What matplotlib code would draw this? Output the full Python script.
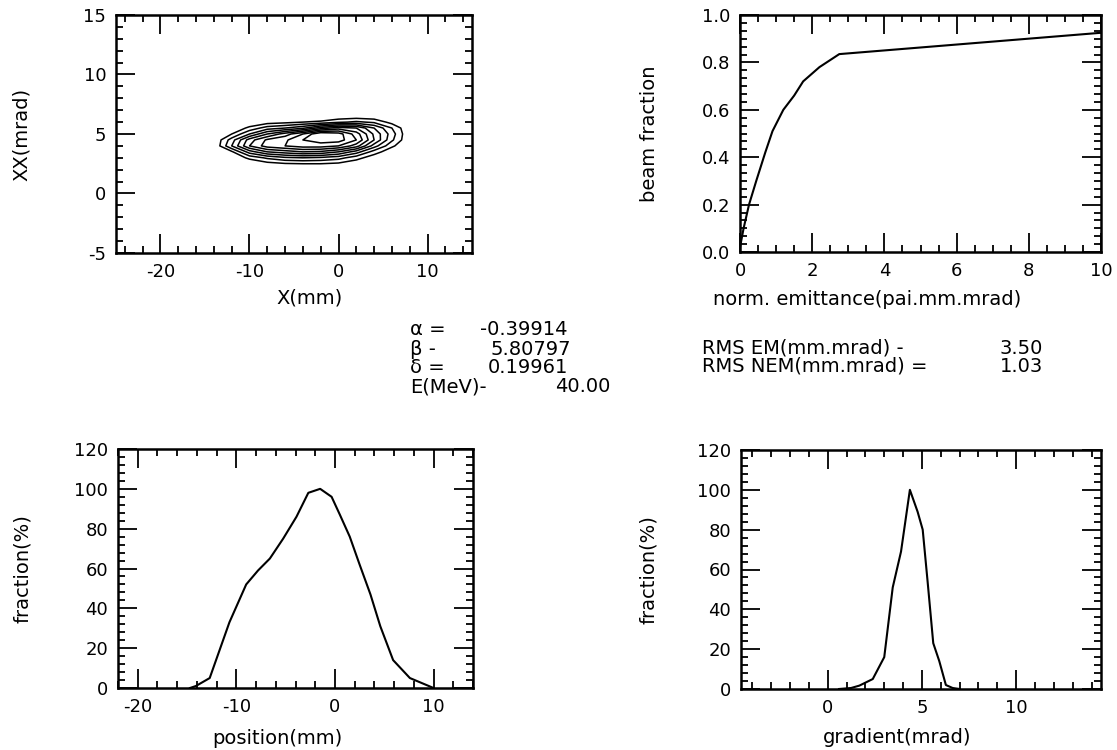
import numpy as np
import matplotlib
matplotlib.use("Agg")
import matplotlib.pyplot as plt
from matplotlib.ticker import MultipleLocator, AutoMinorLocator, FormatStrFormatter

plt.rcParams['font.family'] = ['DejaVu Sans']
plt.rcParams['axes.unicode_minus'] = False

# ---------------- data ----------------
# phase-space density grid (read approx. from contour picture)
cx = [-14, -12, -10, -8, -6, -4, -2, 0, 2, 4, 6, 8]
cy = [1.5, 2.0, 2.5, 3.0, 3.5, 4.0, 4.5, 5.0, 5.5, 6.0, 6.5, 7.0, 7.5]
dens = [
    [0, 0, 0, 0, 0, 0, 0, 0, 0, 0, 0, 0],
    [0, 0, 0, 0, 0.2, 0.3, 0.2, 0, 0, 0, 0, 0],
    [0, 0, 0, 0.6, 0.9, 1.0, 1.0, 0.8, 0.3, 0, 0, 0],
    [0, 0, 1.3, 2.2, 2.8, 3.0, 2.8, 2.4, 1.4, 0.4, 0, 0],
    [0, 0.8, 3.5, 5.0, 5.5, 6.0, 5.8, 5.0, 3.5, 1.5, 0.3, 0],
    [0, 3.0, 6.0, 7.5, 8.0, 8.5, 8.5, 8.0, 6.5, 3.5, 1.2, 0],
    [0, 2.5, 5.5, 7.2, 7.8, 9.0, 9.5, 9.5, 8.0, 5.0, 2.2, 0],
    [0, 1.0, 3.0, 5.0, 6.5, 8.0, 10.0, 9.5, 7.5, 4.8, 2.5, 0],
    [0, 0, 1.3, 2.5, 3.0, 3.8, 5.5, 6.5, 6.0, 4.0, 2.0, 0],
    [0, 0, 0, 0.5, 0.7, 1.0, 1.2, 1.8, 2.2, 1.8, 0.6, 0],
    [0, 0, 0, 0, 0, 0, 0, 0.2, 0.3, 0.2, 0, 0],
    [0, 0, 0, 0, 0, 0, 0, 0, 0, 0, 0, 0],
    [0, 0, 0, 0, 0, 0, 0, 0, 0, 0, 0, 0],
]
contour_levels = [1, 2, 3, 4, 5, 6, 7, 8, 9]

# beam fraction vs normalized emittance
emit = [0.0, 0.1, 0.25, 0.45, 0.7, 0.9, 1.2, 1.5, 1.75, 2.2, 2.75, 10.0]
frac = [0.02, 0.1, 0.2, 0.3, 0.42, 0.51, 0.6, 0.66, 0.72, 0.78, 0.835, 0.925]

# position profile
pos = [-14.7, -14.1, -12.7, -11.7, -10.7, -9.0, -7.8, -6.6, -5.25, -3.9, -2.7,
       -1.5, -0.34, 0.5, 1.5, 2.5, 3.6, 4.6, 5.9, 7.6, 10.0]
pos_frac = [0, 1, 5, 19, 33, 52, 59, 65, 75, 86, 98,
            100, 96, 87, 76, 62, 47, 31, 14, 5, 0]

# gradient profile
grad = [0.6, 1.24, 1.68, 2.39, 3.0, 3.45, 3.89, 4.36, 4.77, 5.04, 5.3,
        5.6, 5.92, 6.27, 6.63, 7.0]
grad_frac = [0, 0.5, 1.7, 5, 16, 51, 69, 100, 89, 80, 54,
             23, 14, 2, 0.5, 0]

alpha_txt = "-0.39914"
beta_txt = "5.80797"
gamma_txt = "0.19961"
energy_txt = "40.00"
rms_em_txt = "3.50"
rms_nem_txt = "1.03"

# ---------------- figure ----------------
W, H = 1117, 750
fig = plt.figure(figsize=(W / 100, H / 100), dpi=100)
FS = 13
LFS = 14

def px_axes(l, r, t, b):
    return fig.add_axes([l / W, 1 - b / H, (r - l) / W, (b - t) / H])

def style(ax, xmaj, xmin, ymaj, ymin_loc):
    ax.xaxis.set_major_locator(MultipleLocator(xmaj))
    ax.xaxis.set_minor_locator(MultipleLocator(xmin))
    ax.yaxis.set_major_locator(MultipleLocator(ymaj))
    ax.yaxis.set_minor_locator(ymin_loc)
    ax.tick_params(which='both', direction='in', top=True, right=True,
                   labelsize=FS, width=1.3, color='k', pad=7)
    ax.tick_params(which='major', length=14)
    ax.tick_params(which='minor', length=5)
    for s in ax.spines.values():
        s.set_linewidth(1.8)

def xlab(ax, text, xc, yc):
    ax.set_xlabel(text, fontsize=LFS)
    ax.xaxis.set_label_coords(xc, yc)
    ax.xaxis.label.set_va('center')

def ylab(ax, text, xc):
    ax.set_ylabel(text, fontsize=LFS)
    ax.yaxis.set_label_coords(xc, 0.5)
    ax.yaxis.label.set_va('center')

# top-left: phase space contours
ax1 = px_axes(116, 472, 15, 253)
ax1.contour(cx, cy, dens, levels=contour_levels, colors='k', linewidths=1.1)
ax1.set_xlim(-25, 15)
ax1.set_ylim(-5, 15)
style(ax1, 10, 2, 5, MultipleLocator(1))
xlab(ax1, "X(mm)", 0.545, -0.19)
ylab(ax1, "XX(mrad)", -0.265)

# top-right: beam fraction
ax2 = px_axes(740, 1101, 15, 252)
ax2.plot(emit, frac, color='k', lw=1.5)
ax2.set_xlim(0, 10)
ax2.set_ylim(0, 1.0)
style(ax2, 2, 0.5, 0.2, AutoMinorLocator(6))
ax2.yaxis.set_major_formatter(FormatStrFormatter('%.1f'))
xlab(ax2, "norm. emittance(pai.mm.mrad)", 0.353, -0.2)
ylab(ax2, "beam fraction", -0.25)

# bottom-left: position profile
ax3 = px_axes(118, 473, 449, 688)
ax3.plot(pos, pos_frac, color='k', lw=1.5)
ax3.set_xlim(-22, 14)
ax3.set_ylim(0, 120)
style(ax3, 10, 2, 20, AutoMinorLocator(5))
xlab(ax3, "position(mm)", 0.448, -0.21)
ylab(ax3, "fraction(%)", -0.27)

# bottom-right: gradient profile
ax4 = px_axes(741, 1101, 450, 689)
ax4.plot(grad, grad_frac, color='k', lw=1.5)
ax4.set_xlim(-4.6, 14.5)
ax4.set_ylim(0, 120)
style(ax4, 5, 1, 20, AutoMinorLocator(5))
xlab(ax4, "gradient(mrad)", 0.433, -0.205)
ylab(ax4, "fraction(%)", -0.258)

# text block
def ftext(x, y, s, ha='left'):
    fig.text(x / W, 1 - y / H, s, fontsize=LFS, ha=ha, va='center')

ftext(410, 330, "α =")
ftext(480, 330, alpha_txt)
ftext(410, 349, "β -")
ftext(490, 349, beta_txt)
ftext(410, 368, "δ =")
ftext(488, 368, gamma_txt)
ftext(410, 387, "E(MeV)-")
ftext(555, 387, energy_txt)

ftext(702, 348, "RMS EM(mm.mrad) -")
ftext(1043, 348, rms_em_txt, ha='right')
ftext(702, 366, "RMS NEM(mm.mrad) =")
ftext(1043, 366, rms_nem_txt, ha='right')

fig.savefig("out.png", dpi=100)
